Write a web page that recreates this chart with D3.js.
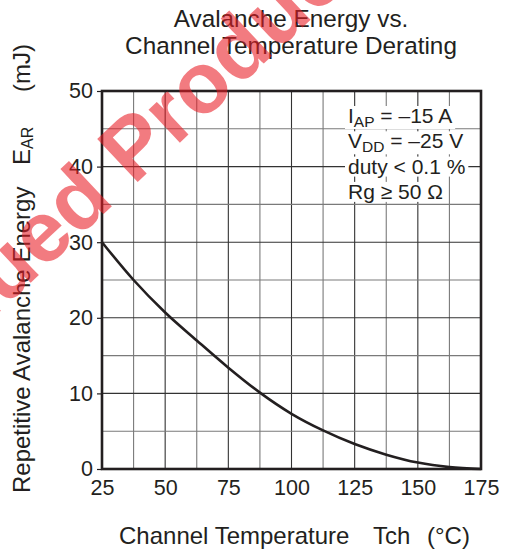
<!DOCTYPE html>
<html>
<head>
<meta charset="utf-8">
<script src="https://cdn.jsdelivr.net/npm/d3@7/dist/d3.min.js"></script>
<style>
  html, body { margin: 0; padding: 0; background: #fff; }
  svg { display: block; font-family: "Liberation Sans", Arial, Helvetica, sans-serif; }
</style>
</head>
<body>
<svg id="chart" width="506" height="553"></svg>
<script>
// Derating curve: channel temperature (°C) vs repetitive avalanche energy (mJ)
const tempC = [25, 37.5, 50, 62.5, 75, 87.5, 100, 112.5, 125, 137.5, 150, 162.5, 175];
const energyMJ = [30, 25, 20.7, 17, 13.4, 10.1, 7.3, 5.1, 3.3, 1.9, 0.85, 0.25, 0];

const xTicks = [25, 50, 75, 100, 125, 150, 175];
const yTicks = [0, 10, 20, 30, 40, 50];
const xGrid = [37.5, 50, 62.5, 75, 87.5, 100, 112.5, 125, 137.5, 150, 162.5];
const yGrid = [5, 10, 15, 20, 25, 30, 35, 40, 45];

const titleLines = ["Avalanche Energy vs.", "Channel Temperature Derating"];
const conditions = [
  [["I", ""], ["AP", "sub"], [" = \u201315 A", ""]],
  [["V", ""], ["DD", "sub"], [" = \u201325 V", ""]],
  [["duty < 0.1 %", ""]],
  [["Rg \u2265 50 \u03A9", ""]]
];
const watermark = "Discontinued Product";

const ink = "#231f20";
const svg = d3.select("#chart");
const plot = { left: 102, right: 481, top: 91, bottom: 469 };

const x = d3.scaleLinear().domain([25, 175]).range([plot.left, plot.right]);
const y = d3.scaleLinear().domain([0, 50]).range([plot.bottom, plot.top]);

// Title
svg.append("g").selectAll("text").data(titleLines).join("text")
  .attr("x", 291).attr("y", (d, i) => 27 + i * 27)
  .attr("text-anchor", "middle")
  .attr("font-size", 24.3).attr("fill", ink)
  .text(d => d);

// Grid lines (major lines slightly darker)
const grid = svg.append("g");
grid.selectAll("line.v").data(xGrid).join("line")
  .attr("class", "v")
  .attr("x1", d => x(d)).attr("x2", d => x(d))
  .attr("y1", plot.top).attr("y2", plot.bottom)
  .attr("stroke", d => (d % 25 === 0 ? "#333" : "#7a7a7a"))
  .attr("stroke-width", 1.1);
grid.selectAll("line.h").data(yGrid).join("line")
  .attr("class", "h")
  .attr("y1", d => y(d)).attr("y2", d => y(d))
  .attr("x1", plot.left).attr("x2", plot.right)
  .attr("stroke", d => (d % 10 === 0 ? "#333" : "#7a7a7a"))
  .attr("stroke-width", 1.1);

// Axes: labels only, ticks drawn outward on the left
const xAxis = d3.axisBottom(x).tickValues(xTicks).tickSize(0).tickPadding(11);
svg.append("g")
  .attr("transform", `translate(0,${plot.bottom})`)
  .call(xAxis)
  .call(g => g.select(".domain").remove())
  .call(g => g.selectAll("text").attr("font-size", 21.5).attr("fill", ink)
    .attr("font-family", "Liberation Sans, Arial, sans-serif"));

const yAxis = d3.axisLeft(y).tickValues(yTicks).tickSize(5).tickPadding(4);
svg.append("g")
  .attr("transform", `translate(${plot.left},0)`)
  .call(yAxis)
  .call(g => g.select(".domain").remove())
  .call(g => g.selectAll("line").attr("stroke", ink).attr("stroke-width", 1.2))
  .call(g => g.selectAll("text").attr("font-size", 21.5).attr("fill", ink)
    .attr("font-family", "Liberation Sans, Arial, sans-serif"));

// Derating curve
const line = d3.line()
  .x((d, i) => x(tempC[i]))
  .y(d => y(d))
  .curve(d3.curveMonotoneX);
svg.append("path")
  .datum(energyMJ)
  .attr("d", line)
  .attr("fill", "none")
  .attr("stroke", ink)
  .attr("stroke-width", 2.6);

// Test conditions, each line on its own white backing
const cond = svg.append("g");
conditions.forEach((parts, i) => {
  const t = cond.append("text")
    .attr("x", 348).attr("y", 123 + i * 25.3)
    .attr("font-size", 21).attr("fill", ink);
  parts.forEach(([s, kind]) => {
    const ts = t.append("tspan").text(s);
    if (kind === "sub") ts.attr("font-size", 15.5).attr("dy", 4);
    else if (t.selectAll("tspan").size() > 1) ts.attr("dy", -4);
  });
  const bb = t.node().getBBox();
  cond.insert("rect", "text")
    .attr("x", bb.x - 3).attr("y", bb.y + 2)
    .attr("width", bb.width + 6).attr("height", bb.height - 3)
    .attr("fill", "#fff");
});

// Frame
svg.append("rect")
  .attr("x", plot.left).attr("y", plot.top)
  .attr("width", plot.right - plot.left).attr("height", plot.bottom - plot.top)
  .attr("fill", "none").attr("stroke", ink).attr("stroke-width", 2.6);

// Axis titles
const xt = svg.append("text")
  .attr("x", 119).attr("y", 544)
  .attr("font-size", 24).attr("fill", ink);
xt.append("tspan").text("Channel Temperature");
xt.append("tspan").attr("x", 373).text("Tch");
xt.append("tspan").attr("x", 427).text("(\u00B0C)");

const yt = svg.append("text")
  .attr("transform", "translate(29.5,493) rotate(-90)")
  .attr("font-size", 24).attr("fill", ink);
yt.append("tspan").text("Repetitive Avalanche Energy");
yt.append("tspan").attr("x", 328).text("E");
yt.append("tspan").attr("font-size", 16).attr("dy", 3).text("AR");
yt.append("tspan").attr("dy", -3).attr("x", 401).text("(mJ)");

// Watermark
const wm = svg.append("g").attr("transform", "translate(43,271) rotate(-43.2)");
const wt = wm.append("text")
  .attr("font-size", 86).attr("font-weight", "bold")
  .attr("fill", "rgb(232,28,36)").attr("fill-opacity", 0.58)
  .text(watermark);
const start = wt.node().getStartPositionOfChar(watermark.indexOf("ed P"));
wt.attr("x", -start.x);
</script>
</body>
</html>
